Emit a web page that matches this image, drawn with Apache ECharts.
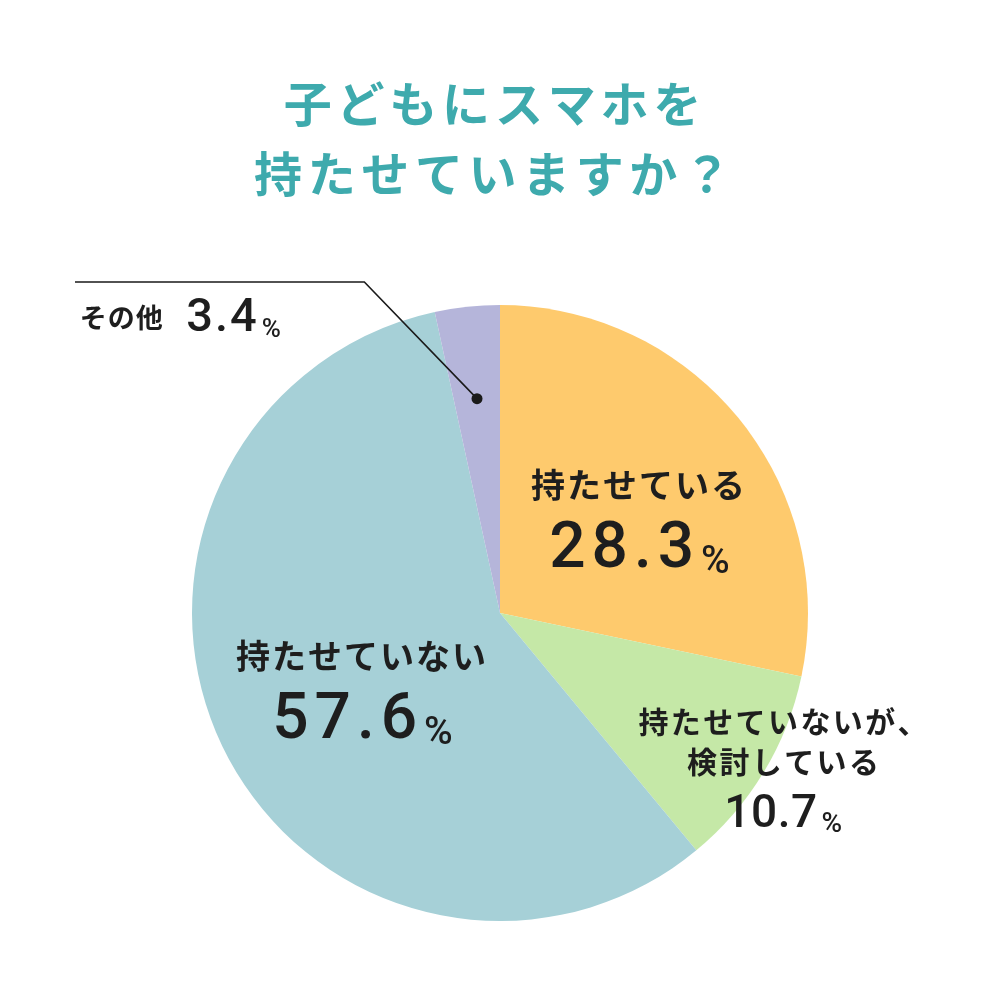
<!DOCTYPE html>
<html><head><meta charset="utf-8">
<script src="https://cdn.jsdelivr.net/npm/echarts@6/dist/echarts.min.js"></script>
<style>html,body{margin:0;padding:0;background:#fff}#c{width:985px;height:985px}</style>
</head><body><div id="c"></div>
<script>
// ---- data ----
const titleLines = ['子どもにスマホを', '持たせていますか？'];
const categories = ['持たせている', '持たせていないが、\n検討している', '持たせていない', 'その他'];
const values = [28.3, 10.7, 57.6, 3.4];
const unit = '%';

// ---- styles ----
const colors = ['#FECA6D', '#C5E8A7', '#A6D0D7', '#B5B5DA'];
const CJK = '"Noto Sans CJK JP", "Noto Sans", sans-serif';
const NUM = 'Roboto, "Noto Sans", sans-serif';
const ink = '#1e1e1e';
const W = 'bold';
const NW = 500;
// label style keys per slice
const labelStyleKey = ['L', 'S', 'L', 'O'];
const labelPos = [[638, 521], [783, 770], [361, 692], [180, 318]];
const titleTops = [79, 149];

function spaced(str, key) {
  return str.split('').map(ch => '{' + key + '|' + ch + '}').join('');
}

const rich = {
  // large slices
  Lname: {fontFamily: CJK, fontSize: 34, fontWeight: W, color: ink, lineHeight: 52, padding: [0, 1]},
  Lnum: {fontFamily: NUM, fontSize: 64, fontWeight: NW, color: ink, lineHeight: 71, padding: [0, 3], verticalAlign: 'bottom'},
  Lpct: {fontFamily: NUM, fontSize: 39, fontWeight: NW, color: ink, lineHeight: 71, padding: [0, 0, 0, 4], verticalAlign: 'bottom'},
  // small slice
  Sname: {fontFamily: CJK, fontSize: 30, fontWeight: W, color: ink, lineHeight: 40, padding: [0, 1.2]},
  Snum: {fontFamily: NUM, fontSize: 46, fontWeight: NW, color: ink, lineHeight: 57, padding: [0, 0.3], verticalAlign: 'bottom'},
  Spct: {fontFamily: NUM, fontSize: 28, fontWeight: NW, color: ink, lineHeight: 57, padding: [0, 0, 0, 4], verticalAlign: 'bottom'},
  // other
  Oname: {fontFamily: CJK, fontSize: 27, fontWeight: W, color: ink, lineHeight: 50, padding: [0, 0.5], verticalAlign: 'middle'},
  Onum: {fontFamily: NUM, fontSize: 47, fontWeight: NW, color: ink, lineHeight: 50, padding: [0, 1], verticalAlign: 'bottom'},
  Opct: {fontFamily: NUM, fontSize: 26, fontWeight: NW, color: ink, lineHeight: 50, padding: [0, 0, 0, 4], verticalAlign: 'bottom'},
  gap: {width: 22}
};

function labelFormatter(p) {
  const k = labelStyleKey[p.dataIndex];
  const num = spaced(String(p.value), k + 'num') + '{' + k + 'pct|' + unit + '}';
  if (k === 'O') {
    return spaced(p.name, 'Oname') + '{gap|}' + num;
  }
  const nameLines = p.name.split('\n').map(l => spaced(l, k + 'name'));
  return nameLines.join('\n') + '\n' + num;
}

const titleRich = {
  t0: {fontFamily: CJK, fontSize: 48, fontWeight: W, color: '#3EAAAD', lineHeight: 50, padding: [0, 2.4]},
  t1: {fontFamily: CJK, fontSize: 48, fontWeight: W, color: '#3EAAAD', lineHeight: 50, padding: [0, 2.8]}
};

const chart = echarts.init(document.getElementById('c'), null, {renderer: 'canvas'});
chart.setOption({
  backgroundColor: '#ffffff',
  animation: false,
  title: titleLines.map((t, i) => ({
    text: spaced(t, 't' + i),
    left: 'center', top: titleTops[i], padding: 0,
    textStyle: {rich: titleRich, fontFamily: CJK, fontSize: 48, lineHeight: 50}
  })),
  series: [{
    type: 'pie',
    center: [500, 613],
    radius: 308,
    startAngle: 90,
    clockwise: true,
    silent: true,
    label: {
      show: true,
      position: 'inside',
      formatter: labelFormatter,
      rich: rich,
      align: 'center'
    },
    labelLine: {show: false},
    labelLayout: function (p) {
      const pos = labelPos[p.dataIndex];
      return {x: pos[0], y: pos[1]};
    },
    data: categories.map((c, i) => ({name: c, value: values[i], itemStyle: {color: colors[i]}}))
  }]
});

// leader line for the small "other" slice, anchored on the library's sector layout
(function () {
  let layout = null;
  try {
    const sm = chart.getModel().getSeriesByIndex(0);
    layout = sm.getData().getItemLayout(3);
  } catch (e) { layout = null; }
  if (!layout) return;
  const mid = (layout.startAngle + layout.endAngle) / 2;
  const rr = layout.r * 0.70;
  const dx = layout.cx + rr * Math.cos(mid);
  const dy = layout.cy + rr * Math.sin(mid);
  const elbowY = 282;
  const elbowX = dx - (dy - elbowY) * 0.966;
  const endX = 75;
  chart.setOption({
    graphic: [
      {type: 'polyline', silent: true, z: 10,
        shape: {points: [[dx, dy], [elbowX, elbowY], [endX, elbowY]]},
        style: {stroke: '#1a1a1a', lineWidth: 1.6, fill: null}},
      {type: 'circle', silent: true, z: 11,
        shape: {cx: dx, cy: dy, r: 5.5},
        style: {fill: '#1a1a1a'}}
    ]
  });
})();
</script>
</body></html>
